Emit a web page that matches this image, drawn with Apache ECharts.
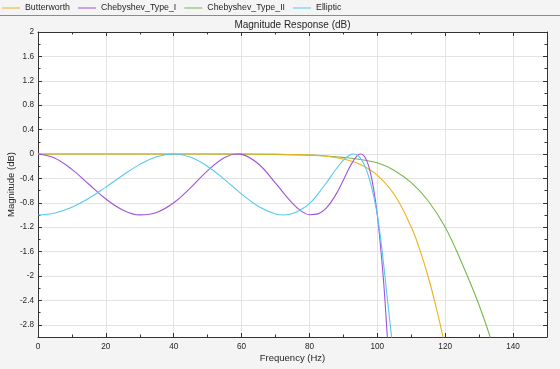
<!DOCTYPE html>
<html><head><meta charset="utf-8">
<script src="https://cdn.jsdelivr.net/npm/echarts@6/dist/echarts.min.js"></script>
<style>html,body{margin:0;padding:0;background:#f4f4f4;}#c{width:560px;height:369px;}</style>
</head><body><div id="c"></div>
<script>
const seriesNames = ['Butterworth', 'Chebyshev_Type_I', 'Chebyshev_Type_II', 'Elliptic'];

const butterFreq = [0, 20, 40, 60, 70, 80, 85, 90, 95, 100, 105, 110, 112.5, 115, 117.5, 120, 121];
const butterDb = [0, 0, 0, 0, -0.003, -0.016, -0.037, -0.082, -0.173, -0.349, -0.665, -1.197, -1.568, -2.016, -2.551, -3.165, -3.45];

const cheb1Freq = [0, 5, 10, 15, 20, 25, 30, 35, 40, 45, 50, 55, 58.8, 60, 65, 70, 75, 77.5, 80, 82.5, 85, 87.5, 90, 91, 92.5, 94, 95, 96, 97, 98, 99, 100, 101, 102, 103, 103.5];
const cheb1Db = [0, -0.068, -0.252, -0.496, -0.738, -0.918, -0.998, -0.958, -0.800, -0.551, -0.272, -0.058, 0, -0.006, -0.164, -0.479, -0.811, -0.932, -0.995, -0.982, -0.884, -0.690, -0.427, -0.312, -0.150, -0.032, -0.001, -0.026, -0.125, -0.315, -0.605, -1.0, -1.55, -2.2, -3.05, -3.45];

const cheb2Freq = [0, 20, 40, 60, 70, 80, 85, 90, 95, 100, 105, 110, 115, 120, 125, 130, 135];
const cheb2Db = [0, 0, 0, -0.002, -0.006, -0.018, -0.032, -0.055, -0.09, -0.145, -0.27, -0.47, -0.77, -1.2, -1.8, -2.48, -3.3];

const ellipFreq = [0, 5, 10, 15, 20, 25, 30, 35, 40, 45, 50, 55, 60, 65, 70, 72.5, 75, 77.5, 80, 82.5, 85, 87.5, 90, 92, 93, 94, 95, 96, 97, 98, 99, 100, 101, 102, 103, 104, 105];
const ellipDb = [-1.0, -0.966, -0.873, -0.727, -0.543, -0.348, -0.170, -0.044, 0, -0.055, -0.204, -0.420, -0.657, -0.862, -0.985, -1.0, -0.977, -0.911, -0.815, -0.654, -0.471, -0.274, -0.099, -0.012, 0, -0.016, -0.067, -0.158, -0.294, -0.479, -0.713, -1.0, -1.4, -1.88, -2.4, -2.9, -3.4];

const xTicks = [0, 20, 40, 60, 80, 100, 120, 140];
const yTicks = [-2.8, -2.4, -2, -1.6, -1.2, -0.8, -0.4, 0, 0.4, 0.8, 1.2, 1.6, 2];

const colors = ['#EDB120', '#9F52DE', '#77B84A', '#57C8F0'];
const FONT = 'Liberation Sans, Arial, Helvetica, sans-serif';
const AX = '#333333';
const GRIDC = '#e3e3e3';

function zip(a, b) { return a.map((v, i) => [v, b[i]]); }
const seriesData = [zip(butterFreq, butterDb), zip(cheb1Freq, cheb1Db), zip(cheb2Freq, cheb2Db), zip(ellipFreq, ellipDb)];

function xAx(pos, major, extra) {
  return Object.assign({
    type: 'value', position: pos, min: 0, max: 150, interval: 10, gridIndex: 0,
    axisLine: { show: major, onZero: false, lineStyle: { color: AX, width: 1 } },
    axisTick: major ? { show: true, inside: true, length: 4, customValues: xTicks, lineStyle: { color: AX } }
                    : { show: true, inside: true, length: 2.5, lineStyle: { color: AX } },
    axisLabel: { show: false },
    splitLine: { show: false }
  }, extra || {});
}
function yAx(pos, major, extra) {
  return Object.assign({
    type: 'value', position: pos, min: -3, max: 2, interval: 0.2, gridIndex: 0,
    axisLine: { show: major, onZero: false, lineStyle: { color: AX, width: 1 } },
    axisTick: major ? { show: true, inside: true, length: 4, customValues: yTicks, lineStyle: { color: AX } }
                    : { show: true, inside: true, length: 2.5, lineStyle: { color: AX } },
    axisLabel: { show: false },
    splitLine: { show: false }
  }, extra || {});
}

const chart = echarts.init(document.getElementById('c'), null, { renderer: 'canvas' });
chart.setOption({
  animation: false,
  backgroundColor: '#f4f4f4',
  textStyle: { fontFamily: FONT },
  grid: { left: 38, top: 32, width: 509, height: 305, containLabel: false, outerBoundsMode: 'none', show: true, backgroundColor: '#ffffff', borderWidth: 0 },
  legend: {
    left: 2, top: 3.5, padding: 0, itemWidth: 18, itemHeight: 1, itemGap: 8, icon: 'rect',
    textStyle: { fontSize: 8.8, color: '#262626', fontFamily: FONT },
    data: seriesNames
  },
  graphic: [
    { type: 'line', shape: { x1: 0, y1: 15.5, x2: 560, y2: 15.5 }, style: { stroke: '#8c8c8c', lineWidth: 1 }, silent: true },
    { type: 'text', x: 292.5, y: 25.5, style: { text: 'Magnitude Response (dB)', fill: '#262626', font: '10px ' + FONT, textAlign: 'center', textVerticalAlign: 'middle' }, silent: true }
  ],
  xAxis: [
    xAx('bottom', true, {
      axisLabel: { show: true, customValues: xTicks, fontSize: 8.2, color: '#262626', margin: 6, fontFamily: FONT },
      splitLine: { show: true, lineStyle: { color: GRIDC, width: 1 } },
      name: 'Frequency (Hz)', nameLocation: 'middle', nameGap: 16.5, nameMoveOverlap: false,
      nameTextStyle: { fontSize: 9.5, color: '#262626', fontFamily: FONT }
    }),
    xAx('bottom', false),
    xAx('top', true),
    xAx('top', false)
  ],
  yAxis: [
    yAx('left', true, {
      axisLabel: { show: true, customValues: yTicks, fontSize: 8.2, color: '#262626', margin: 4, fontFamily: FONT },
      splitLine: { show: true, lineStyle: { color: GRIDC, width: 1 } },
      name: 'Magnitude (dB)', nameLocation: 'middle', nameGap: 22, nameMoveOverlap: false,
      nameTextStyle: { fontSize: 9.5, color: '#262626', fontFamily: FONT }
    }),
    yAx('left', false),
    yAx('right', true),
    yAx('right', false)
  ],
  series: seriesNames.map((n, i) => ({
    name: n, type: 'line', xAxisIndex: 0, yAxisIndex: 0,
    data: seriesData[i], symbol: 'none', smooth: 0.4, clip: true,
    lineStyle: { color: colors[i], width: 1.1 }, itemStyle: { color: colors[i] },
    z: 3 + (i === 2 ? 0 : 1)
  }))
});
</script>
</body></html>
